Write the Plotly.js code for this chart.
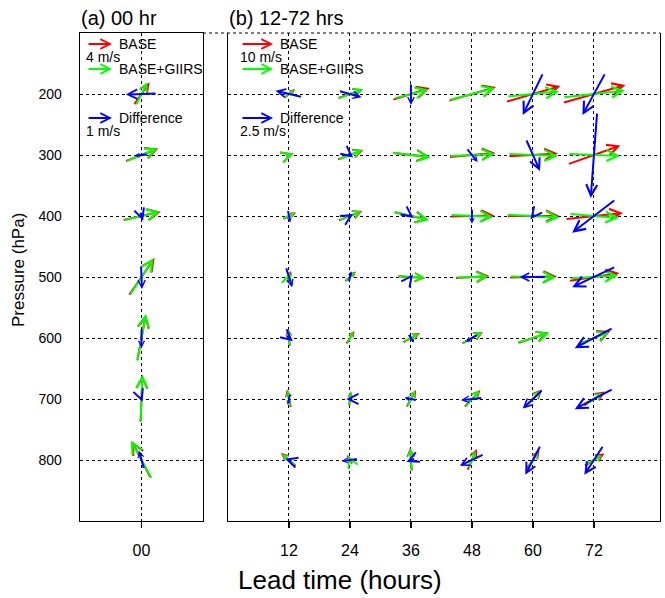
<!DOCTYPE html>
<html>
<head>
<meta charset="utf-8">
<script src="https://cdn.plot.ly/plotly-3.0.1.min.js"></script>
<style>html,body{margin:0;padding:0;background:#fff;}#chart{width:665px;height:598px;}</style>
</head>
<body>
<div id="chart"></div>
<script>
// ---------------- DATA ----------------
const levels = [200, 300, 400, 500, 600, 700, 800];          // hPa
const leadTimes = [12, 24, 36, 48, 60, 72];                  // hours (panel b)
const leadTickText = ['12', '24', '36', '48', '60', '72'];
const initTick = [0];
const initTickText = ['00'];
const pressureTickText = ['200', '300', '400', '500', '600', '700', '800'];

// Panel (a) 00 hr, m/s, one value per level
const base0U  = [2.6, 5.4, 6.2, 4.2, 1.4, 0.3, -3.0];
const base0V  = [3.7, 2.1, 1.4, 6.1, 7.5, 7.7, 5.9];
const giirs0U = [1.9, 5.1, 5.9, 3.8, 1.4, 0.3, -3.4];
const giirs0V = [3.8, 2.1, 1.4, 5.9, 7.7, 7.8, 6.2];
const diff0U  = [-1.25, -0.54, 0.13, 0.04, 0.0, 0.08, -0.21];
const diff0V  = [-0.04, -0.06, -0.38, -0.96, -0.79, -0.21, 0.75];

// Panel (b) 12-72 hrs, rows = levels, columns = lead times, m/s
const baseU = [
  [3.8, 8.1, 11.9, 15.0, 17.2, 19.7],
  [2.8, 8.4, 11.9, 14.7, 15.6, 16.6],
  [4.4, 7.8, 10.9, 14.1, 16.6, 18.1],
  [1.3, 3.8, 8.8, 10.9, 15.0, 15.9],
  [-0.6, 2.8, 5.6, 6.9, 9.7, 10.3],
  [-1.3, 0.6, 3.1, 5.3, 5.6, 6.9],
  [-5.0, -1.9, -0.6, 3.1, 4.1, 6.6]
];
const baseV = [
  [3.1, 2.8, 3.8, 4.4, 5.0, 5.6],
  [0.9, 3.1, -1.3, 1.3, 0.9, 5.9],
  [2.2, 3.1, -2.5, 0.3, 0.0, 1.9],
  [3.8, 3.4, -0.6, 0.6, 0.3, 2.5],
  [5.9, 4.4, 3.1, 3.8, 3.4, 4.4],
  [5.9, 4.7, 5.6, 5.6, 5.9, 4.7],
  [4.4, 3.1, 7.5, 6.9, 5.9, 4.1]
];
const giirsU = [
  [3.1, 8.1, 10.9, 14.4, 16.3, 19.4],
  [2.8, 7.8, 12.2, 14.4, 15.6, 16.3],
  [4.1, 7.2, 11.3, 13.4, 16.6, 15.6],
  [0.9, 3.4, 8.8, 10.3, 14.4, 15.0],
  [-0.3, 2.2, 5.0, 6.6, 10.3, 9.4],
  [-0.9, 0.6, 2.5, 4.7, 5.0, 5.6],
  [-4.4, -1.3, -0.3, 2.2, 3.4, 5.3]
];
const giirsV = [
  [2.8, 3.1, 2.8, 3.8, 1.6, 2.2],
  [0.9, 3.1, -1.6, 0.6, -0.6, -0.6],
  [1.6, 2.8, -2.5, -0.6, -0.9, -1.3],
  [2.8, 3.1, -0.3, 0.3, -0.3, 0.9],
  [5.3, 4.1, 2.8, 3.8, 3.1, 3.8],
  [5.3, 4.7, 5.3, 5.3, 5.3, 3.8],
  [3.8, 2.8, 7.2, 5.6, 4.7, 2.8]
];
const diffU = [
  [-2.1, 1.8, 0.0, -0.2, -1.6, -1.8],
  [-0.2, 0.5, 0.2, 0.9, 1.1, -0.5],
  [0.2, 0.5, 0.4, 0.0, -0.4, -3.4],
  [0.5, 0.2, 0.3, 0.0, -2.1, -3.4],
  [0.6, 0.2, 0.5, -1.0, -0.2, -3.0],
  [-0.2, -0.6, -1.0, -1.7, -1.6, -3.0],
  [-0.6, -1.3, -0.7, -1.9, -1.2, -1.5]
];
const diffV = [
  [0.5, -0.5, -1.7, 0.1, -3.3, -3.3],
  [-0.1, -0.4, -0.2, -1.1, -2.5, -6.7],
  [-1.0, 0.3, -0.3, -1.2, -0.5, -2.6],
  [-1.6, 0.9, 0.4, 0.1, 0.0, -1.6],
  [-0.5, -0.2, -0.7, -0.6, -0.1, -1.6],
  [-0.9, 0.0, 0.2, -0.2, -1.5, -1.6],
  [0.2, -0.2, -0.3, -0.9, -2.3, -2.3]
];

// reference vectors (legend)
const refA = {wind: 4, diff: 1, windLabel: '4 m/s', diffLabel: '1 m/s'};
const refB = {wind: 10, diff: 2.5, windLabel: '10 m/s', diffLabel: '2.5 m/s'};
const seriesNames = ['BASE', 'BASE+GIIRS', 'Difference'];
const seriesColors = ['#ff0000', '#00ff00', '#0000ff'];

// ---------------- LAYOUT GEOMETRY ----------------
const FIG_W = 665, FIG_H = 598;
const M = {l: 0, r: 5, t: 33, b: 77};
const PW = FIG_W - M.l - M.r;   // paper width in px
const PH = FIG_H - M.t - M.b;   // paper height in px
const domA = [80 / PW, 203 / PW];
const domB = [228 / PW, 1];
const rangeA = [-12, 12];
const rangeB = [0, 85];
const rangeY = [900, 100];
const refLenA = 25, refLenB = 32;   // px length of the reference vector
const LW = 2;                        // vector line width

const pxPerXA = (domA[1] - domA[0]) * PW / (rangeA[1] - rangeA[0]);
const pxPerXB = (domB[1] - domB[0]) * PW / (rangeB[1] - rangeB[0]);
const pxPerY = PH / (rangeY[0] - rangeY[1]);

function px2paperX(p) { return (p - M.l) / PW; }
function px2paperY(p) { return (FIG_H - M.b - p) / PH; }
function headSize(len) {
  const hl = Math.max(2.5, Math.min(9.5, 0.26 * len));
  return hl / (4.4 * LW);
}

const annotations = [];

function vec(xref, yref, cx, cy, u, v, k, pxPerX, color) {
  const dx = u * k, dy = -v * k;      // screen px
  const len = Math.sqrt(dx * dx + dy * dy);
  if (len < 0.5) return;
  const hx = cx + (dx / 2) / pxPerX, hy = cy + (dy / 2) / pxPerY;
  const tx = cx - (dx / 2) / pxPerX, ty = cy - (dy / 2) / pxPerY;
  annotations.push({
    xref: xref, yref: yref, axref: xref, ayref: yref,
    x: hx, y: hy, ax: tx, ay: ty, text: '', showarrow: true,
    arrowhead: 5, arrowsize: headSize(len), arrowwidth: LW, arrowcolor: color,
    standoff: 0, startstandoff: 0
  });
}

// Panel (a)
const kA = [refLenA / refA.wind, refLenA / refA.wind, refLenA / refA.diff];
const kB = [refLenB / refB.wind, refLenB / refB.wind, refLenB / refB.diff];
const setsA = [[base0U, base0V], [giirs0U, giirs0V], [diff0U, diff0V]];
const setsB = [[baseU, baseV], [giirsU, giirsV], [diffU, diffV]];
for (let s = 0; s < 3; s++) {
  levels.forEach((p, i) => vec('x', 'y', initTick[0], p, setsA[s][0][i], setsA[s][1][i], kA[s], pxPerXA, seriesColors[s]));
}
for (let s = 0; s < 3; s++) {
  levels.forEach((p, i) => leadTimes.forEach((t, j) =>
    vec('x2', 'y2', t, p, setsB[s][0][i][j], setsB[s][1][i][j], kB[s], pxPerXB, seriesColors[s])));
}

// legend (reference vectors)
const txtFont = {family: 'Liberation Sans, Arial, sans-serif', size: 14, color: '#000'};
function legend(x0, refLen, ref) {
  const rows = [44, 69, 118];
  rows.forEach((py, s) => {
    annotations.push({xref: 'paper', yref: 'paper', x: px2paperX(x0 + refLen), y: px2paperY(py),
      ax: -refLen, ay: 0, axref: 'pixel', ayref: 'pixel', text: '', showarrow: true,
      arrowhead: 5, arrowsize: headSize(32), arrowwidth: LW, arrowcolor: seriesColors[s], standoff: 0, startstandoff: 0});
    annotations.push({xref: 'paper', yref: 'paper', x: px2paperX(x0 + refLen + 5), y: px2paperY(py),
      xanchor: 'left', yanchor: 'middle', text: seriesNames[s], showarrow: false, font: txtFont});
  });
  annotations.push({xref: 'paper', yref: 'paper', x: px2paperX(x0 - 3), y: px2paperY(57),
    xanchor: 'left', yanchor: 'middle', text: ref.windLabel, showarrow: false, font: txtFont});
  annotations.push({xref: 'paper', yref: 'paper', x: px2paperX(x0 - 3), y: px2paperY(131),
    xanchor: 'left', yanchor: 'middle', text: ref.diffLabel, showarrow: false, font: txtFont});
}
legend(87, refLenA, refA);
legend(241, refLenB, refB);

// titles
const titleFont = {family: 'Liberation Sans, Arial, sans-serif', size: 20, color: '#000'};
annotations.push({xref: 'paper', yref: 'paper', x: px2paperX(79), y: px2paperY(18), xanchor: 'left', yanchor: 'middle',
  text: '(a) 00 hr', showarrow: false, font: titleFont});
annotations.push({xref: 'paper', yref: 'paper', x: px2paperX(227), y: px2paperY(18), xanchor: 'left', yanchor: 'middle',
  text: '(b) 12-72 hrs', showarrow: false, font: titleFont});
annotations.push({xref: 'paper', yref: 'paper', x: px2paperX(340), y: px2paperY(580), xanchor: 'center', yanchor: 'middle',
  text: 'Lead time (hours)', showarrow: false, font: {family: 'Liberation Sans, Arial, sans-serif', size: 26, color: '#000'}});
annotations.push({xref: 'paper', yref: 'paper', x: px2paperX(18), y: px2paperY(270), xanchor: 'center', yanchor: 'middle',
  text: 'Pressure (hPa)', textangle: -90, showarrow: false, font: {family: 'Liberation Sans, Arial, sans-serif', size: 17, color: '#000'}});

const gridCommon = {showgrid: true, gridcolor: '#000', gridwidth: 1, griddash: 'dot', zeroline: false,
  showline: true, linecolor: '#000', linewidth: 1.3, ticks: 'outside', ticklen: 6, tickcolor: '#000', tickwidth: 1.3};

const layout = {
  width: FIG_W, height: FIG_H,
  margin: M,
  paper_bgcolor: '#fff', plot_bgcolor: '#fff',
  showlegend: false,
  font: {family: 'Liberation Sans, Arial, sans-serif', color: '#000'},
  xaxis: Object.assign({}, gridCommon, {domain: domA, range: rangeA, anchor: 'y', mirror: true,
    tickvals: initTick, ticktext: initTickText, tickfont: {size: 16}, ticklabelstandoff: 8}),
  xaxis2: Object.assign({}, gridCommon, {domain: domB, range: rangeB, anchor: 'y2', mirror: false,
    tickvals: leadTimes, ticktext: leadTickText, tickfont: {size: 16}, ticklabelstandoff: 8}),
  yaxis: Object.assign({}, gridCommon, {domain: [0, 1], range: rangeY, anchor: 'x', mirror: true,
    tickvals: levels, ticktext: pressureTickText, tickfont: {size: 14}, ticklen: 0, ticklabelstandoff: 14}),
  yaxis2: Object.assign({}, gridCommon, {domain: [0, 1], range: rangeY, anchor: 'x2', mirror: true,
    tickvals: levels, showticklabels: false, ticklen: 0}),
  shapes: [{type: 'line', xref: 'paper', yref: 'paper', x0: px2paperX(203), x1: 1, y0: 1, y1: 1,
    line: {color: '#000', width: 1, dash: 'dot'}}],
  annotations: annotations
};

const traces = [
  {type: 'scatter', x: [], y: [], xaxis: 'x', yaxis: 'y', hoverinfo: 'skip'},
  {type: 'scatter', x: [], y: [], xaxis: 'x2', yaxis: 'y2', hoverinfo: 'skip'}
];
Plotly.newPlot('chart', traces, layout, {staticPlot: true, displayModeBar: false});
</script>
</body>
</html>
